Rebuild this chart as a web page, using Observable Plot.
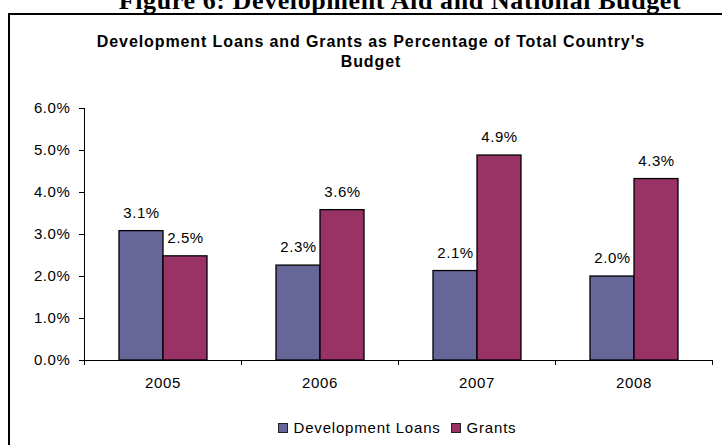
<!DOCTYPE html>
<html>
<head>
<meta charset="utf-8">
<script src="https://cdn.jsdelivr.net/npm/d3@7"></script>
<script src="https://cdn.jsdelivr.net/npm/@observablehq/plot@0.6"></script>
<style>
  html, body { margin: 0; padding: 0; background: #fff; }
  body { width: 722px; height: 445px; overflow: hidden; position: relative; font-family: "Liberation Sans", Arial, sans-serif; color: #000; }
  #fig-title { position: absolute; left: 0; width: 800px; top: -12px; line-height: 26px; text-align: center; font-family: "Liberation Serif", "Times New Roman", serif; font-weight: bold; font-size: 26px; letter-spacing: 0.6px; white-space: nowrap; }
  #box { position: absolute; left: 8px; top: 13px; width: 740px; height: 460px; border-left: 2px solid #000; border-top: 2px solid #000; }
  #chart-title { position: absolute; left: 0; width: 742px; top: 32px; text-align: center; font-weight: bold; font-size: 16px; letter-spacing: 0.9px; line-height: 20px; }
  #plot { position: absolute; left: 0; top: 80px; }
  #legend { position: absolute; left: 0; width: 794px; top: 419px; display: flex; justify-content: center; align-items: center; font-size: 15px; letter-spacing: 0.8px; white-space: nowrap; }
  .item { display: flex; align-items: center; margin: 0 5px; }
  .sw { width: 8px; height: 8px; border: 1px solid #222; margin-right: 6px; }
</style>
</head>
<body>
<div id="fig-title">Figure 6: Development Aid and National Budget</div>
<div id="box"></div>
<div id="chart-title">Development Loans and Grants as Percentage of Total Country's<br>Budget</div>
<div id="plot"></div>
<div id="legend"></div>
<script>
const years = ["2005", "2006", "2007", "2008"];
const series = ["Development Loans", "Grants"];
const loans = [0.0308, 0.0226, 0.0213, 0.0200];
const grants = [0.0248, 0.0358, 0.0488, 0.0432];
const colors = ["#666699", "#993366"];
const yTicks = [0, 0.01, 0.02, 0.03, 0.04, 0.05, 0.06];

const data = years.flatMap((yr, i) => [
  {year: yr, series: series[0], value: loans[i]},
  {year: yr, series: series[1], value: grants[i]}
]);
const pct = d3.format(".1%");

const chart = Plot.plot({
  width: 722,
  height: 320,
  marginLeft: 83,
  marginRight: 10,
  marginTop: 28,
  marginBottom: 40,
  style: {fontFamily: "'Liberation Sans', Arial, sans-serif", fontSize: "15px", color: "#000", background: "transparent", letterSpacing: "0.6px"},
  facet: {data, x: "year"},
  fx: {domain: years, padding: 0, label: null, tickSize: 0, tickPadding: 17, axis: "bottom"},
  x: {domain: series, paddingInner: 0, paddingOuter: 0.75, axis: null},
  y: {domain: [0, 0.06], ticks: yTicks, tickFormat: pct, label: null, tickSize: 5, tickPadding: 9},
  color: {domain: series, range: colors},
  marks: [
    Plot.barY(data, {x: "series", y: "value", fill: "series", stroke: "#000", strokeWidth: 1.3}),
    Plot.ruleY([0], {stroke: "#000", strokeWidth: 1}),
    Plot.text(data, {x: "series", y: "value", text: d => pct(d.value), dy: -18, fill: "#000"})
  ]
});
document.getElementById("plot").appendChild(chart);

// Axis line on the left and category-boundary ticks below the baseline, from the plot's scales
const svg = d3.select(chart.tagName.toLowerCase() === "svg" ? chart : chart.querySelector("svg"));
const ys = chart.scale("y");
const fxs = chart.scale("fx");
const x0 = fxs.apply(years[0]);
const yBase = ys.apply(0);
svg.append("line")
  .attr("x1", x0 + 0.5).attr("x2", x0 + 0.5)
  .attr("y1", ys.apply(yTicks[yTicks.length - 1])).attr("y2", yBase)
  .attr("stroke", "#000");
const bounds = years.map(yr => fxs.apply(yr)).concat([fxs.apply(years[years.length - 1]) + fxs.bandwidth]);
svg.append("g").selectAll("line").data(bounds).join("line")
  .attr("x1", d => d + 0.5).attr("x2", d => d + 0.5)
  .attr("y1", yBase).attr("y2", yBase + 5)
  .attr("stroke", "#000");

// Legend
const legend = d3.select("#legend");
series.forEach((s, i) => {
  const it = legend.append("div").attr("class", "item");
  it.append("div").attr("class", "sw").style("background", colors[i]);
  it.append("span").text(s);
});
</script>
</body>
</html>
